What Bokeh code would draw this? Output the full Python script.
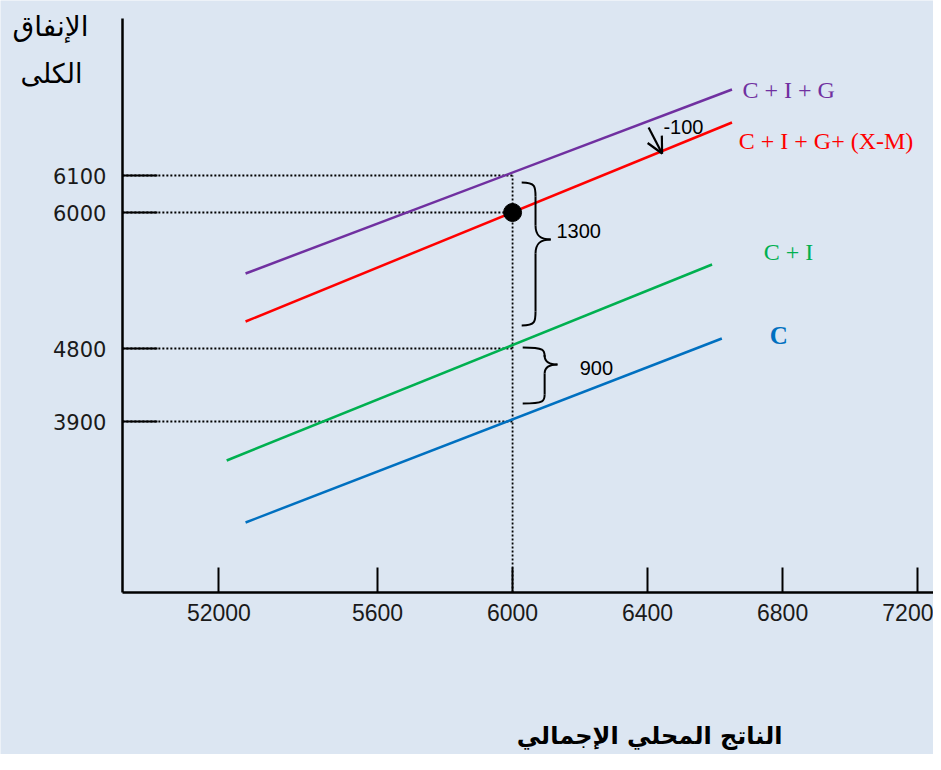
from bokeh.plotting import figure
from bokeh.models import Range1d, FixedTicker, Label, Arrow, OpenHead, ColumnDataSource
from bokeh.embed import file_html
from bokeh.resources import INLINE

BG = "#dce6f2"

# ---- axis ticks ----
x_ticks = [5130, 5600, 6000, 6400, 6800, 7200]
x_tick_labels = ["52000", "5600", "6000", "6400", "6800", "7200"]
# spending axis is schematic: tick positions in diagram units
y_ticks = [171, 244, 380, 417]
y_tick_labels = ["3900", "4800", "6000", "6100"]

# axis extents (origin of the diagram and end of each axis)
x_origin, x_end = 4844, 7247
y_origin, y_end = 0, 574

# ---- aggregate expenditure lines (endpoints, diagram units) ----
line_names = ["C", "C + I", "C + I + G+ (X-M)", "C + I + G"]
line_x0 = [5209, 5153, 5209, 5209]
line_x1 = [6620, 6591, 6650, 6650]
line_y0 = [70, 132, 271, 319]
line_y1 = [254, 328, 470, 503]
line_colors = ["#0070c0", "#00b050", "#ff0000", "#7030a0"]

# equilibrium output / spending
eq_x = 6000
eq_y = 380
top_level = 417

# gap annotations
gap_labels = ["1300", "900"]
# brace geometry: x_end, x_spine, x_tip, y_top, y_mid, y_bottom, radius
braces = [
    (6027, 6068, 6113, 410, 353, 267, 14),
    (6030, 6095, 6133, 245, 228, 189, 9),
]

p = figure(width=933, height=754,
           x_range=Range1d(4483, 7247), y_range=Range1d(-162, 592),
           output_backend="svg", toolbar_location=None,
           min_border_left=0, min_border_right=0,
           min_border_top=0, min_border_bottom=0,
           background_fill_color=BG, border_fill_color=BG,
           outline_line_color=None)
p.grid.visible = False

# axes drawn at the diagram origin
p.xaxis.fixed_location = y_origin
p.yaxis.fixed_location = x_origin
p.xaxis.bounds = (x_origin, x_end)
p.yaxis.bounds = (y_origin, y_end)
p.xaxis.ticker = FixedTicker(ticks=x_ticks)
p.xaxis.major_label_overrides = {t: l for t, l in zip(x_ticks, x_tick_labels)}
p.yaxis.ticker = FixedTicker(ticks=y_ticks)
p.yaxis.major_label_overrides = {t: l for t, l in zip(y_ticks, y_tick_labels)}
for ax in (p.xaxis, p.yaxis):
    ax.axis_line_width = 2.5
    ax.axis_line_color = "black"
    ax.major_tick_line_color = "black"
    ax.major_tick_line_width = 2
    ax.major_tick_out = 0
    ax.minor_tick_line_color = None
    ax.major_label_text_color = "#1a1a1a"
p.xaxis.major_tick_in = 25
p.yaxis.major_tick_in = 35
p.xaxis.major_label_standoff = 11
p.yaxis.major_label_standoff = 16
p.xaxis.major_label_text_font = "Liberation Sans"
p.xaxis.major_label_text_font_size = "23px"
p.yaxis.major_label_text_font = "DejaVu Sans"
p.yaxis.major_label_text_font_size = "21px"

# dotted guide lines
guide_src = ColumnDataSource(dict(
    x0=[x_origin] * len(y_ticks) + [eq_x],
    y0=y_ticks + [y_origin],
    x1=[eq_x] * len(y_ticks) + [eq_x],
    y1=y_ticks + [top_level],
))
p.segment("x0", "y0", "x1", "y1", source=guide_src, line_color="black",
          line_width=1.8, line_dash="2 2")

# expenditure lines
line_src = ColumnDataSource(dict(x0=line_x0, y0=line_y0, x1=line_x1, y1=line_y1,
                                 color=line_colors))
p.segment("x0", "y0", "x1", "y1", source=line_src, line_color="color", line_width=2.5)

# equilibrium point
p.scatter([eq_x], [eq_y], size=18, color="black")

# braces
bz = dict(x0=[], y0=[], x1=[], y1=[], cx0=[], cy0=[], cx1=[], cy1=[])
sg = dict(x0=[], y0=[], x1=[], y1=[])
for (xe, xs, xt, yt, ym, yb, r) in braces:
    curves = [
        ((xe, yt), (xs, yt), (xs, yt - r * 0.3), (xs, yt - r)),
        ((xs, ym + r), (xs, ym + r * 0.3), (xs + (xt - xs) * 0.3, ym), (xt, ym)),
        ((xt, ym), (xs + (xt - xs) * 0.3, ym), (xs, ym - r * 0.3), (xs, ym - r)),
        ((xs, yb + r), (xs, yb + r * 0.3), (xs, yb), (xe, yb)),
    ]
    for a, c0, c1, b in curves:
        bz["x0"].append(a[0]); bz["y0"].append(a[1])
        bz["cx0"].append(c0[0]); bz["cy0"].append(c0[1])
        bz["cx1"].append(c1[0]); bz["cy1"].append(c1[1])
        bz["x1"].append(b[0]); bz["y1"].append(b[1])
    for a, b in [((xs, yt - r), (xs, ym + r)), ((xs, ym - r), (xs, yb + r))]:
        sg["x0"].append(a[0]); sg["y0"].append(a[1])
        sg["x1"].append(b[0]); sg["y1"].append(b[1])
p.bezier("x0", "y0", "x1", "y1", "cx0", "cy0", "cx1", "cy1",
         source=ColumnDataSource(bz), line_color="black", line_width=2)
p.segment("x0", "y0", "x1", "y1", source=ColumnDataSource(sg),
          line_color="black", line_width=2)

# shift arrow (-100) from C+I+G to C+I+G+(X-M)
p.add_layout(Arrow(end=OpenHead(size=16, line_width=2.2, line_color="black"),
                   x_start=6403, y_start=465, x_end=6443, y_end=439,
                   line_width=2.2, line_color="black"))


def add_label(x, y, text, color="black", font="Liberation Sans", size="20px",
              style="normal", align="left"):
    p.add_layout(Label(x=x, y=y, text=text, text_color=color, text_font=font,
                       text_font_size=size, text_font_style=style,
                       text_align=align, text_baseline="middle"))


serif = "Liberation Serif"
add_label(6681, 503, line_names[3], color=line_colors[3], font=serif, size="24px")
add_label(6670, 452, line_names[2], color=line_colors[2], font=serif, size="24px")
add_label(6744, 341, line_names[1], color=line_colors[1], font=serif, size="24px")
add_label(6762, 257, line_names[0], color=line_colors[0], font=serif, size="25px",
          style="bold")
add_label(6447, 466, "-100")
add_label(6130, 362, gap_labels[0])
add_label(6199, 225, gap_labels[1])

# axis titles (Arabic)
add_label(4631, 566, "الإنفاق", font="DejaVu Sans", size="28px", align="center")
add_label(4634, 519, "الكلى", font="DejaVu Sans", size="27px", align="center")
add_label(6406, -143, "الناتج المحلي الإجمالي", font="DejaVu Sans", size="24px",
          style="bold", align="center")

open("out.html", "w").write(file_html(p, INLINE))
